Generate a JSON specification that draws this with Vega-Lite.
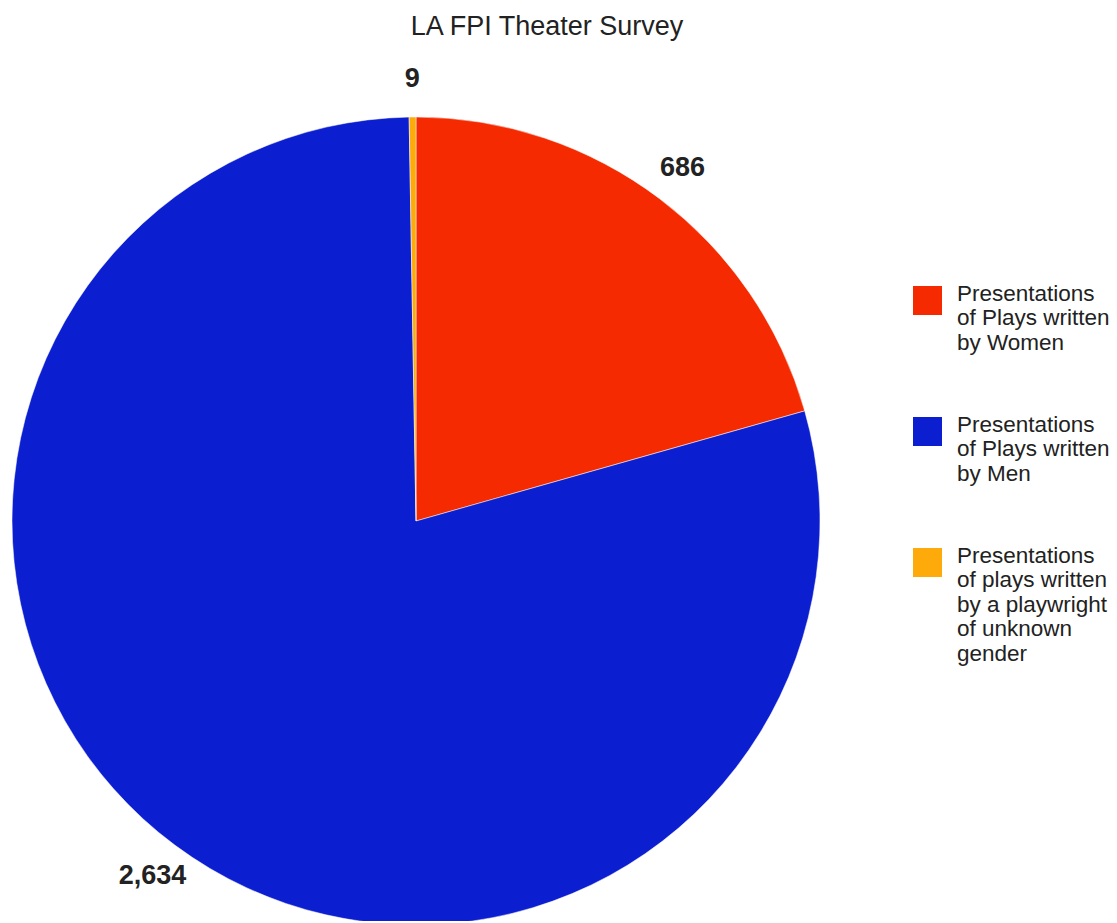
{
  "$schema": "https://vega.github.io/schema/vega-lite/v6.json",
  "width": 832,
  "height": 800,
  "autosize": "none",
  "padding": {"left": 0, "top": 121, "right": 285, "bottom": 0},
  "background": "white",
  "title": {
    "text": "LA FPI Theater Survey",
    "anchor": "middle",
    "frame": "group",
    "dx": 131,
    "offset": 3,
    "baseline": "alphabetic",
    "font": "Liberation Sans",
    "fontSize": 27,
    "fontWeight": "normal",
    "color": "#222222"
  },
  "data": {
    "values": [
      {"category": "Presentations of Plays written by Women", "count": 686, "n": 1},
      {"category": "Presentations of Plays written by Men", "count": 2634, "n": 2},
      {"category": "Presentations of plays written by a playwright of unknown gender", "count": 9, "n": 3}
    ]
  },
  "encoding": {
    "theta": {"field": "count", "type": "quantitative", "stack": true},
    "order": {"field": "n", "type": "quantitative"},
    "color": {
      "field": "category",
      "type": "nominal",
      "scale": {
        "domain": [
          "Presentations of Plays written by Women",
          "Presentations of Plays written by Men",
          "Presentations of plays written by a playwright of unknown gender"
        ],
        "range": ["#f52a00", "#0c1fd0", "#fdaa0a"]
      },
      "legend": {
        "orient": "none",
        "legendX": 913,
        "legendY": 165,
        "title": null,
        "symbolType": "square",
        "symbolSize": 841,
        "symbolStrokeWidth": 0,
        "symbolOpacity": 1,
        "labelFont": "Liberation Sans",
        "labelFontSize": 22.5,
        "labelLineHeight": 25,
        "labelColor": "#222222",
        "labelLimit": 0,
        "labelOffset": 15,
        "labelBaseline": "alphabetic",
        "rowPadding": 59,
        "labelExpr": "datum.label == 'Presentations of Plays written by Women' ? ['Presentations', 'of Plays written', 'by Women'] : datum.label == 'Presentations of Plays written by Men' ? ['Presentations', 'of Plays written', 'by Men'] : ['Presentations', 'of plays written', 'by a playwright', 'of unknown', 'gender']"
      }
    }
  },
  "layer": [
    {
      "mark": {"type": "arc", "outerRadius": 404, "stroke": "white", "strokeWidth": 0.5}
    },
    {
      "mark": {
        "type": "text",
        "radius": 442,
        "font": "Liberation Sans",
        "fontSize": 27,
        "fontWeight": "bold",
        "fill": "#222222"
      },
      "encoding": {
        "text": {"field": "count", "type": "quantitative", "format": ","},
        "color": {"value": "#222222"}
      }
    }
  ]
}
